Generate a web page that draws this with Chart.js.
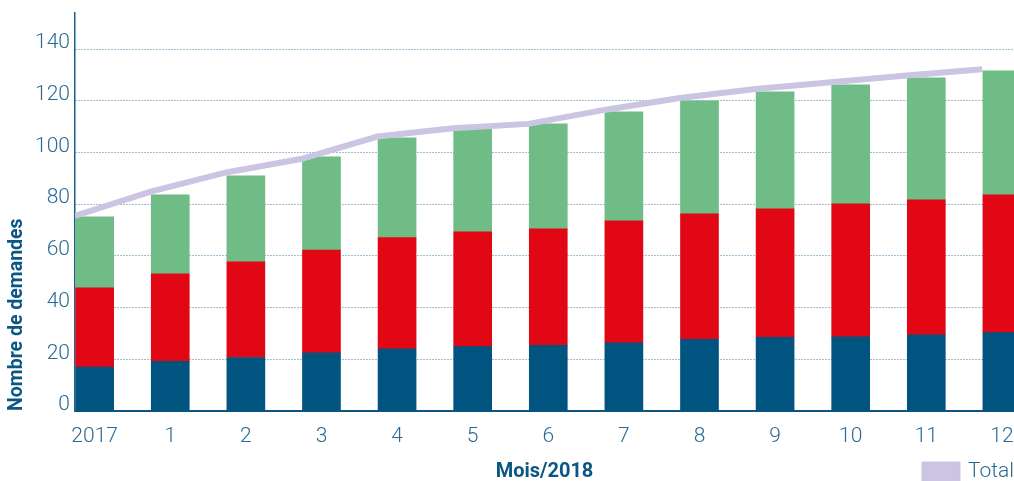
<!DOCTYPE html>
<html>
<head>
<meta charset="utf-8">
<script src="https://cdn.jsdelivr.net/npm/chart.js@4"></script>
<style>
html, body { margin: 0; padding: 0; background: #ffffff; overflow: hidden; }
#wrap { position: relative; width: 1014px; height: 481px; }
</style>
</head>
<body>
<div id="wrap"><canvas id="c"></canvas></div>
<script>
// ---- data ----
const categories = ['2017', '1', '2', '3', '4', '5', '6', '7', '8', '9', '10', '11', '12'];
const blueValues  = [17.0, 19.2, 20.7, 22.5, 24.1, 24.9, 25.4, 26.4, 27.7, 28.5, 28.7, 29.5, 30.3];
const redValues   = [30.7, 33.9, 37.0, 39.8, 43.0, 44.4, 45.1, 47.2, 48.6, 49.7, 51.5, 52.2, 53.3];
const greenValues = [27.4, 30.5, 33.3, 36.0, 38.6, 39.7, 40.6, 42.2, 43.7, 45.3, 46.0, 47.2, 48.0];
const totalValues = [75.5, 84.9, 92.3, 97.6, 106.2, 109.4, 111.1, 116.5, 121.1, 124.6, 127.2, 129.8, 132.2];
const yTickValues = [0, 20, 40, 60, 80, 100, 120, 140];

// ---- layout / style constants ----
const BAR_SHIFT = 0.26;   // bar centre relative to its month slot start
const X_MAX = 12.42;
const Y_MAX = 154;
const TEXT_BLUE = '#2b6a93';
const TITLE_BLUE = '#0b5784';
const FONT = "Roboto, 'Noto Sans', sans-serif";

const barPoints = vals => vals.map((v, i) => ({ x: i + BAR_SHIFT, y: v }));
const linePoints = vals => vals.map((v, i) => ({ x: i, y: v }));

new Chart(document.getElementById('c'), {
  type: 'bar',
  data: {
    datasets: [
      {
        type: 'line', label: 'Total', data: linePoints(totalValues),
        borderColor: '#cbc4e2', backgroundColor: '#cbc4e2', borderWidth: 6,
        pointRadius: 0, tension: 0, stack: 'total', order: 0
      },
      { label: 'Série 1', data: barPoints(blueValues), backgroundColor: '#00547f', stack: 'bars', order: 1, barThickness: 38 },
      { label: 'Série 2', data: barPoints(redValues), backgroundColor: '#e20714', stack: 'bars', order: 1, barThickness: 38 },
      { label: 'Série 3', data: barPoints(greenValues), backgroundColor: '#6fbc86', stack: 'bars', order: 1, barThickness: 38 }
    ]
  },
  options: {
    responsive: true,
    maintainAspectRatio: false,
    animation: false,
    layout: { padding: { top: 13, right: 0, left: 0, bottom: -11 } },
    plugins: {
      tooltip: { enabled: false },
      legend: {
        display: true,
        position: 'bottom',
        align: 'end',
        labels: {
          filter: item => item.text === 'Total',
          boxWidth: 33, boxHeight: 14, padding: 0,
          color: TEXT_BLUE,
          font: { family: FONT, size: 21, weight: '300' }
        }
      }
    },
    scales: {
      x: {
        type: 'linear',
        offset: false,
        min: 0, max: X_MAX,
        stacked: true,
        afterBuildTicks: s => { s.ticks = categories.map((c, i) => ({ value: i + BAR_SHIFT })); },
        afterFit: s => { s.height = 50; s.paddingLeft = 0; s.paddingRight = 0; },
        grid: { display: false, drawTicks: false },
        border: { display: true, color: '#0d5580', width: 2 },
        ticks: {
          autoSkip: false, maxRotation: 0, minRotation: 0, padding: 13,
          color: TEXT_BLUE,
          font: { family: FONT, size: 21, weight: '300' },
          callback: (v, i) => categories[i]
        },
        title: {
          display: true, text: 'Mois/2018', color: TITLE_BLUE,
          font: { family: FONT, size: 20, weight: 'bold' },
          padding: { top: 0, bottom: -22.5 }
        }
      },
      y: {
        type: 'linear',
        min: 0, max: Y_MAX,
        stacked: true,
        afterBuildTicks: s => { s.ticks = yTickValues.map(v => ({ value: v })); },
        afterFit: s => { s.width = 75; s.paddingTop = 0; s.paddingBottom = 0; },
        grid: { color: '#3f7fa6', lineWidth: 1, drawTicks: false },
        border: { display: true, color: '#1a5e88', width: 1.5, dash: [1, 2] },
        ticks: {
          padding: 5, labelOffset: -6,
          color: TEXT_BLUE,
          font: { family: FONT, size: 21, weight: '300' }
        },
        title: {
          display: true, text: 'Nombre de demandes', align: 'start', color: TITLE_BLUE,
          font: { family: FONT, size: 19.5, weight: 'bold' },
          padding: { top: 5, bottom: 0 }
        }
      }
    }
  }
});
</script>
</body>
</html>
